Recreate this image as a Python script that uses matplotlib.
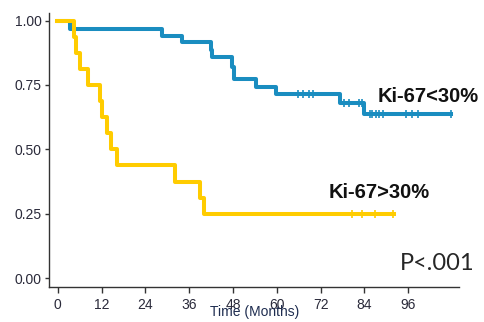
import matplotlib
matplotlib.use("Agg")
import matplotlib.pyplot as plt

# Ki-67 < 30% (blue) step curve
low_t = [0, 3.4, 28.5, 34.1, 42.0, 42.3, 47.8, 48.3, 54.2, 59.9, 77.2, 83.8, 107.7]
low_s = [1.0, 0.968, 0.942, 0.916, 0.886, 0.858, 0.82, 0.774, 0.744, 0.714, 0.679, 0.638, 0.638]
low_cens_t = [65.8, 67.2, 68.7, 69.9, 78.4, 79.9, 82.6, 83.3, 85.4, 86.1, 87.2, 88.1, 89.0, 95.4, 97.0, 98.6, 107.7]
low_cens_s = [0.714] * 4 + [0.679] * 4 + [0.638] * 9

# Ki-67 > 30% (yellow) step curve
high_t = [-0.2, 4.5, 5.0, 6.1, 8.4, 11.6, 12.2, 13.6, 14.6, 16.2, 32.1, 38.9, 40.0, 92.2]
high_s = [1.0, 0.9375, 0.875, 0.8125, 0.75, 0.6875, 0.625, 0.5625, 0.5, 0.4375, 0.375, 0.3125, 0.25, 0.25]
high_cens_t = [80.6, 83.4, 87.0, 91.7]
high_cens_s = [0.25] * 4

xticks = [0, 12, 24, 36, 48, 60, 72, 84, 96]
yticks = [0.00, 0.25, 0.50, 0.75, 1.00]

blue = "#1a8dc0"
yellow = "#ffcc00"

fig = plt.figure(figsize=(4.84, 3.22), dpi=100)
ax = fig.add_axes([0.102, 0.110, 0.847, 0.850])

ax.step(low_t, low_s, where="post", color=blue, lw=2.9, zorder=2)
ax.plot(low_cens_t, low_cens_s, ls="none", marker="|", ms=6, mew=1.2, color=blue, zorder=2)
ax.step(high_t, high_s, where="post", color=yellow, lw=2.9, zorder=3)
ax.plot(high_cens_t, high_cens_s, ls="none", marker="|", ms=6, mew=1.2, color=yellow, zorder=3)

ax.set_xlim(-2.3, 110)
ax.set_ylim(-0.033, 1.03)
ax.set_xticks(xticks)
ax.set_xticklabels([str(v) for v in xticks])
ax.set_yticks(yticks)
ax.set_yticklabels(["%.2f" % v for v in yticks])

for s in ["top", "right"]:
    ax.spines[s].set_visible(False)
for s in ["left", "bottom"]:
    ax.spines[s].set_color("#333333")
    ax.spines[s].set_linewidth(1.0)
ax.tick_params(colors="#333333", labelcolor="#2a2a3a", labelsize=10, length=3, width=1.0)
ax.tick_params(axis="y", pad=2.5)
ax.tick_params(axis="x", pad=4.5, length=4)
for lab in ax.get_xticklabels() + ax.get_yticklabels():
    lab.set_family("Liberation Sans")

ax.text(255 / 484, 1 - 312 / 322, "Time (Months)", transform=fig.transFigure, ha="center",
        va="center", fontsize=10, color="#1f2d50", family="Liberation Sans")

ax.text(378 / 484, 1 - 96 / 322, "Ki-67<30%", transform=fig.transFigure, ha="left", va="center",
        fontsize=14.5, fontweight="bold", color="#111111", family="Liberation Sans")
ax.text(329 / 484, 1 - 193 / 322, "Ki-67>30%", transform=fig.transFigure, ha="left", va="center",
        fontsize=14.5, fontweight="bold", color="#111111", family="Liberation Sans")
ax.text(400 / 484, 1 - 263 / 322, "P<.001", transform=fig.transFigure, ha="left", va="center",
        fontsize=17, color="#262626", family="Lato")

fig.savefig("out.png", dpi=100)
